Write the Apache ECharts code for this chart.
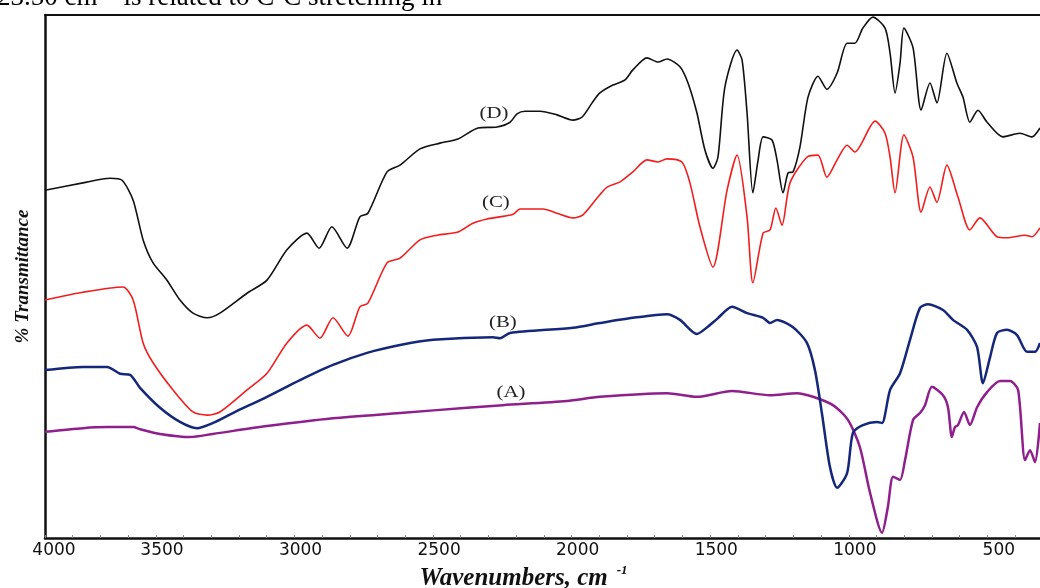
<!DOCTYPE html>
<html>
<head>
<meta charset="utf-8">
<script src="https://cdn.jsdelivr.net/npm/echarts@6/dist/echarts.min.js"></script>
<style>
html,body{margin:0;padding:0;background:#fff;}
#chart{width:1040px;height:588px;}
</style>
</head>
<body>
<div id="chart"></div>
<script>
// Tick labels (wavenumbers, cm-1)
const tickLabels = [4000, 3500, 3000, 2500, 2000, 1500, 1000, 500];
const minorTicks = [];
for (let v = 4000; v >= 500; v -= 100) minorTicks.push(v);

// Series values: [wavenumber, % transmittance (arbitrary offset scale)]
const seriesA = [
  [4000,20.3],[3863,21.0],[3776,21.2],[3682,21.2],[3657,20.8],[3585,19.9],[3477,19.3],[3394,19.9],
  [3199,21.4],[2961,22.9],[2719,23.9],[2477,24.9],[2348,25.4],[2117,26.2],[1998,27.0],[1756,27.7],
  [1648,27.0],[1521,28.1],[1384,27.3],[1287,27.7],[1229,27.0],[1157,25.4],[1103,22.6],[1060,17.4],
  [1023,8.6],[980,1.0],[959,5.9],[940,11.7],[915,11.1],[897,14.9],[868,22.6],[843,23.9],[825,25.4],
  [800,28.9],[760,27.3],[742,25.0],[728,19.3],[717,21.2],[706,21.6],[684,24.1],[663,21.6],[637,25.0],
  [601,27.9],[554,30.0],[518,30.0],[489,28.3],[464,14.9],[446,16.8],[428,14.5],[410,22.0]
];
const seriesB = [
  [4000,32.1],[3863,32.7],[3776,32.7],[3729,31.4],[3693,31.2],[3657,28.7],[3585,24.9],[3513,22.2],
  [3452,21.0],[3394,22.0],[3322,23.9],[3199,27.0],[3080,30.2],[2961,33.1],[2838,35.4],[2719,36.9],
  [2600,37.9],[2384,38.4],[2358,38.2],[2322,39.2],[2095,40.2],[1998,41.1],[1879,42.1],[1756,42.8],
  [1709,41.7],[1648,39.0],[1611,40.3],[1575,41.9],[1521,44.2],[1467,43.0],[1409,42.1],[1384,41.1],
  [1359,41.7],[1301,40.3],[1251,37.3],[1222,32.1],[1197,23.9],[1168,13.6],[1142,9.6],[1106,12.4],
  [1085,20.1],[1049,21.6],[998,22.2],[980,22.0],[951,28.3],[915,31.5],[879,37.9],[843,44.0],
  [814,44.7],[760,43.6],[724,41.7],[673,39.8],[637,36.5],[616,29.6],[590,34.6],[565,39.2],
  [529,39.8],[493,38.8],[457,35.6],[428,35.6],[410,37.3]
];
const seriesC = [
  [4000,45.5],[3863,47.0],[3719,48.0],[3682,45.5],[3646,37.3],[3610,33.5],[3538,28.3],[3466,24.1],
  [3415,23.5],[3369,24.1],[3271,28.3],[3199,31.5],[3127,37.3],[3055,40.7],[3008,38.2],[2961,42.1],
  [2907,38.6],[2864,44.2],[2835,44.9],[2766,52.6],[2719,53.5],[2647,57.0],[2586,57.9],[2510,58.5],
  [2456,60.2],[2405,61.0],[2358,61.4],[2311,61.9],[2286,62.9],[2203,62.9],[2153,62.1],[2095,61.2],
  [2059,61.8],[2008,65.0],[1972,67.1],[1925,68.1],[1879,70.0],[1828,72.3],[1788,71.9],[1756,72.5],
  [1702,71.9],[1673,67.9],[1637,59.5],[1590,51.8],[1539,66.5],[1503,73.2],[1467,61.4],[1446,48.8],
  [1409,58.3],[1384,58.9],[1363,63.1],[1341,59.8],[1312,67.9],[1251,72.8],[1211,73.2],[1179,69.0],
  [1142,72.3],[1106,75.1],[1078,73.8],[1005,79.7],[969,77.4],[951,72.8],[933,66.0],[901,77.1],
  [868,72.8],[839,62.3],[807,67.1],[782,64.2],[746,71.3],[706,65.2],[663,58.9],[627,61.2],
  [565,57.6],[529,57.4],[464,57.9],[439,57.6],[410,59.3]
];
const seriesD = [
  [4000,66.5],[3863,67.9],[3765,68.8],[3722,68.4],[3682,64.6],[3646,57.0],[3610,52.6],[3560,49.3],
  [3513,45.5],[3466,43.0],[3415,42.1],[3369,43.0],[3271,46.8],[3199,49.3],[3127,55.1],[3055,58.3],
  [3011,55.4],[2965,59.5],[2910,55.4],[2864,61.4],[2835,62.1],[2766,70.0],[2719,71.3],[2647,74.4],
  [2575,75.5],[2510,76.3],[2438,78.4],[2369,78.6],[2322,79.5],[2297,81.1],[2268,81.6],[2214,81.6],
  [2153,80.9],[2095,79.9],[2062,80.5],[2026,83.2],[1998,85.1],[1951,86.6],[1907,87.6],[1879,89.5],
  [1828,91.8],[1788,91.0],[1756,91.6],[1709,90.1],[1680,87.0],[1648,81.3],[1619,74.2],[1590,70.7],
  [1572,72.8],[1547,86.2],[1503,93.3],[1485,91.4],[1467,81.3],[1446,66.0],[1427,72.3],[1409,76.7],
  [1377,76.1],[1359,72.3],[1337,66.0],[1319,69.8],[1301,70.0],[1276,74.8],[1247,84.3],[1211,88.3],
  [1179,85.8],[1142,88.9],[1106,94.6],[1078,94.6],[1049,97.5],[1013,99.6],[969,97.5],[951,92.7],
  [933,85.1],[915,90.8],[901,97.5],[868,93.7],[839,81.8],[807,87.0],[782,83.2],[746,92.7],
  [710,87.0],[688,84.3],[663,79.5],[634,81.8],[601,79.5],[544,76.7],[482,77.4],[439,76.7],[410,78.4]
];
// Curve label anchors: [wavenumber, transmittance]
const labelText = ['(A)', '(B)', '(C)', '(D)'];
const labelPos = [[2319, 27.7], [2348, 41.1], [2373, 64.1], [2380, 81.1]];

const chart = echarts.init(document.getElementById('chart'), null, {renderer: 'canvas'});

function mkSeries(name, data, color, width) {
  return {
    name: name, type: 'line', xAxisIndex: 0, yAxisIndex: 0,
    data: data, showSymbol: false, smooth: 0.25, animation: false,
    lineStyle: {color: color, width: width}
  };
}

const option = {
  backgroundColor: '#fff',
  animation: false,
  grid: {left: 45, right: 0, top: 15, bottom: 50, containLabel: false, outerBoundsMode: 'none'},
  xAxis: [{
    type: 'value', inverse: true, min: 410, max: 4000, position: 'bottom',
    axisLine: {show: true, onZero: false, lineStyle: {color: '#111', width: 2.5}},
    axisTick: {show: true, inside: true, length: 3, customValues: minorTicks, lineStyle: {color: '#888', width: 1}},
    axisLabel: {show: true, customValues: tickLabels, align: 'right', alignMinLabel: 'center', margin: 4,
      fontFamily: 'DejaVu Sans', fontSize: 17, color: '#111',
      formatter: function (v) { return v === 4000 ? '{p|4000}' : String(v); },
      rich: {p: {fontFamily: 'DejaVu Sans', fontSize: 17, color: '#111', padding: [0, 0, 0, 18]}}
    },
    splitLine: {show: false},
    name: '{m|Wavenumbers, cm}{s|-1}',
    nameLocation: 'middle', nameGap: 26,
    nameTextStyle: {
      padding: [0, 38, 0, 0],
      rich: {
        m: {fontFamily: 'Liberation Serif', fontStyle: 'italic', fontWeight: 'bold', fontSize: 25, color: '#111'},
        s: {fontFamily: 'Liberation Serif', fontStyle: 'italic', fontWeight: 'bold', fontSize: 13, color: '#111', padding: [0, 0, 16, 9]}
      }
    }
  }, {
    type: 'value', inverse: true, min: 410, max: 4000, position: 'top',
    axisLine: {show: true, onZero: false, lineStyle: {color: '#111', width: 2}},
    axisTick: {show: false}, axisLabel: {show: false}, splitLine: {show: false}
  }],
  yAxis: {
    type: 'value', min: 0, max: 100,
    axisLine: {show: true, onZero: false, lineStyle: {color: '#111', width: 2.5}},
    axisTick: {show: false}, axisLabel: {show: false}, splitLine: {show: false},
    name: '% Transmittance', nameLocation: 'middle', nameGap: 12,
    nameTextStyle: {fontFamily: 'Liberation Serif', fontStyle: 'italic', fontWeight: 'bold', fontSize: 19, color: '#111'}
  },
  graphic: [{
    type: 'text', left: -3, top: -16,
    style: {
      text: '{n|23.50 cm}{s|-1}{n| is related to C-C stretching in}',
      rich: {
        n: {fontFamily: 'Liberation Serif', fontSize: 27, color: '#000'},
        s: {fontFamily: 'Liberation Serif', fontSize: 16, color: '#000', padding: [0, 3, 12, 3]}
      }
    }
  }],
  series: [
    mkSeries('A', seriesA, '#8e1f8c', 2.5),
    mkSeries('B', seriesB, '#15277a', 2.5),
    mkSeries('C', seriesC, '#f21d1d', 1.6),
    mkSeries('D', seriesD, '#111111', 1.6),
    {
      type: 'custom', xAxisIndex: 0, yAxisIndex: 0, data: labelPos, silent: true, animation: false,
      renderItem: function (params, api) {
        const p = api.coord([api.value(0), api.value(1)]);
        return {
          type: 'text', x: p[0], y: p[1], scaleX: 1.3,
          style: {text: labelText[params.dataIndex], fontFamily: 'Liberation Serif', fontSize: 16,
            fill: '#222', align: 'center', verticalAlign: 'middle'}
        };
      }
    }
  ]
};
chart.setOption(option);
</script>
</body>
</html>
